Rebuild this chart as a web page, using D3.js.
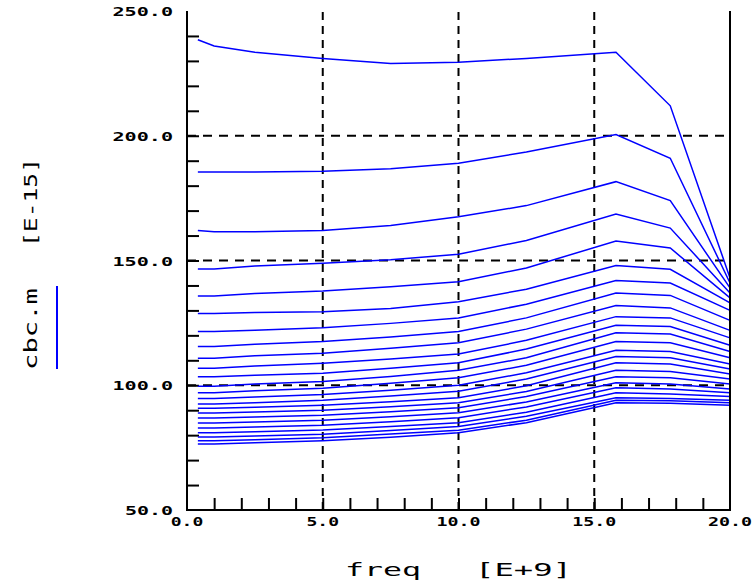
<!DOCTYPE html>
<html>
<head>
<meta charset="utf-8">
<script src="https://cdn.jsdelivr.net/npm/d3@7"></script>
<style>
  body { margin: 0; background: #fff; }
  svg { display: block; }
</style>
</head>
<body>
<div id="chart"></div>
<script>
const width = 755;
const height = 582;

// frequency points [E+9]
const freq = [0.4, 1, 2.5, 5, 7.5, 10, 12.5, 15.8, 17.8, 20];

// cbc.m [E-15], one array per sweep
const c01 = [238.5, 236, 233.5, 231, 229, 229.5, 231, 233.5, 212, 143];
const c02 = [185.5, 185.5, 185.5, 185.8, 186.8, 189, 193.5, 200.5, 191, 141];
const c03 = [162, 161.5, 161.5, 162, 164, 167.5, 172, 181.6, 174, 139];
const c04 = [146.6, 146.6, 147.8, 148.9, 150.3, 152.5, 158, 168.6, 163, 137];
const c05 = [135.8, 135.8, 136.8, 137.8, 139.5, 141.5, 147, 157.8, 155, 135];
const c06 = [128.8, 128.8, 129.2, 129.5, 130.8, 133.5, 138.5, 148, 146.5, 133];
const c07 = [121.5, 121.5, 122, 123, 124.8, 127, 132.5, 142, 141, 130];
const c08 = [115.5, 115.5, 116.4, 117.5, 119.3, 121.5, 127, 137, 136, 126];
const c09 = [110.8, 110.8, 111.8, 112.8, 114.8, 117, 122.5, 132, 131, 122];
const c10 = [106.8, 106.8, 107.7, 108.8, 110.5, 112.5, 118, 127.5, 127, 119];
const c11 = [103.4, 103.4, 104, 104.8, 106.8, 109, 114.5, 124, 123.5, 116];
const c12 = [99.6, 99.6, 100.5, 101.5, 103.5, 106, 111, 121, 120.5, 113.5];
const c13 = [97, 97, 97.8, 98.8, 100.8, 103, 108, 117.5, 117, 111];
const c14 = [94.7, 94.7, 95.3, 96.3, 98, 100, 105, 114, 113.5, 108.5];
const c15 = [92.5, 92.5, 93, 94, 95.7, 97.6, 102.5, 111.5, 111, 106.5];
const c16 = [90.8, 90.8, 91.2, 92, 93.4, 95, 99.8, 109, 108.5, 104.5];
const c17 = [88.9, 88.9, 89.3, 90, 91.4, 93, 97.5, 106, 105.5, 102.5];
const c18 = [86.9, 86.9, 87.3, 88, 89.4, 91, 95.5, 103.4, 103, 100.5];
const c19 = [84.9, 84.9, 85.3, 86, 87.4, 89, 93.3, 101, 100.5, 98.5];
const c20 = [82.9, 82.9, 83.3, 84, 85.4, 87, 91.3, 99, 98.5, 97];
const c21 = [81, 81, 81.4, 82.1, 83.5, 85, 89.2, 97, 96.5, 95.5];
const c22 = [79.3, 79.3, 79.7, 80.4, 81.9, 83.5, 87.6, 95, 94.7, 94];
const c23 = [77.8, 77.8, 78.2, 79, 80.5, 82, 86, 94, 93.8, 93];
const c24 = [76.5, 76.5, 77, 77.8, 79.2, 81, 85, 93, 92.8, 92];

const series = [c01, c02, c03, c04, c05, c06, c07, c08, c09, c10, c11, c12,
                c13, c14, c15, c16, c17, c18, c19, c20, c21, c22, c23, c24];

const xTicks = [0, 5, 10, 15, 20];
const xTickLabels = ["0.0", "5.0", "10.0", "15.0", "20.0"];
const yTicks = [50, 100, 150, 200, 250];
const yTickLabels = ["50.0", "100.0", "150.0", "200.0", "250.0"];
const xGrid = [5, 10, 15];
const yGrid = [100, 150, 200];

const svg = d3.select("#chart")
    .append("svg")
    .attr("width", width)
    .attr("height", height);

const x = d3.scaleLinear().domain([0, 20]).range([187, 730]);
const y = d3.scaleLinear().domain([50, 250]).range([510, 11]);

const labelFont = "'DejaVu Sans Mono', monospace";

// dashed grid (under the curves)
svg.append("g")
    .selectAll("line")
    .data(xGrid)
    .join("line")
    .attr("x1", d => x(d)).attr("x2", d => x(d))
    .attr("y1", y(50)).attr("y2", y(250))
    .attr("stroke", "#000")
    .attr("stroke-width", 2)
    .attr("stroke-dasharray", "8,6");

svg.append("g")
    .selectAll("line")
    .data(yGrid)
    .join("line")
    .attr("x1", x(0)).attr("x2", x(20))
    .attr("y1", d => y(d)).attr("y2", d => y(d))
    .attr("stroke", "#000")
    .attr("stroke-width", 2)
    .attr("stroke-dasharray", "9,7");

// minor ticks, pointing into the plot
const xAxis = d3.axisBottom(x).tickValues(d3.range(1, 20)).tickSize(-12).tickFormat("");
const yAxis = d3.axisLeft(y).tickValues(d3.range(60, 250, 10)).tickSize(-12).tickFormat("");

svg.append("g")
    .attr("transform", "translate(0," + y(50) + ")")
    .call(xAxis)
    .call(g => g.select(".domain").remove())
    .selectAll("line").attr("stroke", "#000").attr("stroke-width", 2);

svg.append("g")
    .attr("transform", "translate(" + x(0) + ",0)")
    .call(yAxis)
    .call(g => g.select(".domain").remove())
    .selectAll("line").attr("stroke", "#000").attr("stroke-width", 2);

// curves
const line = d3.line()
    .x((d, i) => x(freq[i]))
    .y(d => y(d));

svg.append("g")
    .selectAll("path")
    .data(series)
    .join("path")
    .attr("d", line)
    .attr("fill", "none")
    .attr("stroke", "#0000ff")
    .attr("stroke-width", 1.5);

// frame: left, bottom, right
svg.append("path")
    .attr("d", "M" + x(0) + "," + y(250) + "V" + y(50) + "H" + x(20) + "V" + y(250))
    .attr("fill", "none")
    .attr("stroke", "#000")
    .attr("stroke-width", 2);

// tick labels
svg.append("g")
    .selectAll("text")
    .data(xTicks)
    .join("text")
    .attr("x", d => x(d))
    .attr("y", y(50) + 16)
    .attr("text-anchor", "middle")
    .attr("font-family", labelFont)
    .attr("font-weight", "bold")
    .attr("font-size", 13)
    .attr("textLength", (d, i) => xTickLabels[i].length * 11.5 - 2)
    .attr("lengthAdjust", "spacingAndGlyphs")
    .text((d, i) => xTickLabels[i]);

svg.append("g")
    .selectAll("text")
    .data(yTicks)
    .join("text")
    .attr("x", 173)
    .attr("y", d => y(d) + 5)
    .attr("text-anchor", "end")
    .attr("font-family", labelFont)
    .attr("font-weight", "bold")
    .attr("font-size", 13)
    .attr("textLength", (d, i) => yTickLabels[i].length * 12.5 - 2)
    .attr("lengthAdjust", "spacingAndGlyphs")
    .text((d, i) => yTickLabels[i]);

// axis titles
svg.append("text")
    .attr("x", 345).attr("y", 576)
    .attr("font-family", labelFont)
    .attr("font-size", 17)
    .attr("textLength", 76)
    .attr("lengthAdjust", "spacingAndGlyphs")
    .text("freq");

svg.append("text")
    .attr("x", 475).attr("y", 576)
    .attr("font-family", labelFont)
    .attr("font-size", 17)
    .attr("textLength", 97)
    .attr("lengthAdjust", "spacingAndGlyphs")
    .text("[E+9]");

svg.append("text")
    .attr("transform", "translate(37,370) rotate(-90)")
    .attr("font-family", labelFont)
    .attr("font-size", 17)
    .attr("textLength", 82)
    .attr("lengthAdjust", "spacingAndGlyphs")
    .text("cbc.m");

svg.append("text")
    .attr("transform", "translate(37,247) rotate(-90)")
    .attr("font-family", labelFont)
    .attr("font-size", 17)
    .attr("textLength", 89)
    .attr("lengthAdjust", "spacingAndGlyphs")
    .text("[E-15]");

// legend sample line
svg.append("line")
    .attr("x1", 57).attr("x2", 57)
    .attr("y1", 286).attr("y2", 369)
    .attr("stroke", "#0000ff")
    .attr("stroke-width", 2);
</script>
</body>
</html>
